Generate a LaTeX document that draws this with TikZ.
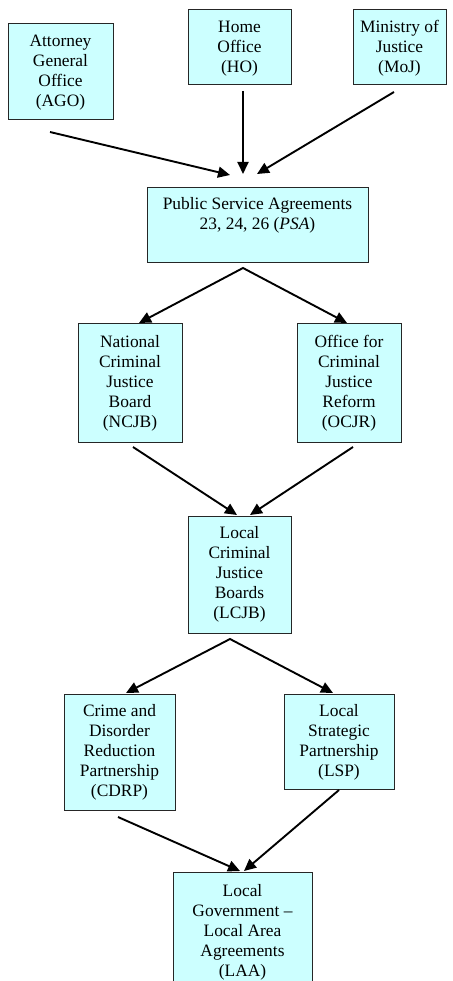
\documentclass[tikz,border=0pt]{standalone}
\usepackage{fontspec}
\setmainfont{Liberation Serif}
\usetikzlibrary{arrows.meta}
\definecolor{boxfill}{HTML}{CCFFFF}
\newcommand{\mybox}[4]{\parbox[c][#2][t]{#1}{\centering\fontsize{17.4}{20}\selectfont\rule{0pt}{#3}#4}}
\begin{document}
\begin{tikzpicture}[x=1pt,y=-1pt,
  orgbox/.style={draw=black!85, line width=0.9pt, fill=boxfill, inner sep=0pt, outer sep=0pt},
  arr/.style={line width=1.9pt, -{Triangle[length=12pt,width=11pt]}},
  arrtwo/.style={line width=1.9pt, line join=miter, {Triangle[length=12pt,width=11pt]}-{Triangle[length=12pt,width=11pt]}}]
\useasboundingbox (0,0) rectangle (452,981);
\node[orgbox] (ago) at (60.5,71) {\mybox{105pt}{96pt}{23.5pt}{Attorney\\General\\Office\\(AGO)}};
\node[orgbox] (ho) at (239.5,46.5) {\mybox{103pt}{75pt}{24pt}{Home\\Office\\(HO)}};
\node[orgbox] (moj) at (399.5,46.5) {\mybox{93pt}{75pt}{24pt}{Ministry of\\Justice\\(MoJ)}};
\node[orgbox] (psa) at (257.5,224.5) {\mybox{221pt}{75pt}{23pt}{Public Service Agreements\\23, 24, 26 (\textit{PSA})}};
\node[orgbox] (ncjb) at (130,382.5) {\mybox{104pt}{119pt}{24pt}{National\\Criminal\\Justice\\Board\\(NCJB)}};
\node[orgbox] (ocjr) at (349,382.5) {\mybox{104pt}{119pt}{24pt}{Office for\\Criminal\\Justice\\Reform\\(OCJR)}};
\node[orgbox] (lcjb) at (239.5,574.5) {\mybox{103pt}{117pt}{22.5pt}{Local\\Criminal\\Justice\\Boards\\(LCJB)}};
\node[orgbox] (cdrp) at (119.5,752) {\mybox{111pt}{116pt}{22.5pt}{Crime and\\Disorder\\Reduction\\Partnership\\(CDRP)}};
\node[orgbox] (lsp) at (339,741.5) {\mybox{110pt}{95pt}{22.5pt}{Local\\Strategic\\Partnership\\(LSP)}};
\node[orgbox] (laa) at (242.5,936) {\mybox{139pt}{128pt}{24pt}{Local\\Government --\\Local Area\\Agreements\\(LAA)}};
\draw[arr] ([shift={(-10.5,13)}]ago.south) -- ([shift={(-27.5,-12)}]psa.north);
\draw[arr] ([shift={(3.5,7)}]ho.south) -- ([shift={(-14.5,-13)}]psa.north);
\draw[arr] ([shift={(-5.5,8)}]moj.south) -- ([shift={(-0.5,-13)}]psa.north);
\draw[arrtwo] ([shift={(9,0)}]ncjb.north) -- ([shift={(-14.5,6)}]psa.south) -- ([shift={(-2,0)}]ocjr.north);
\draw[arr] ([shift={(3,5)}]ncjb.south) -- ([shift={(-2.5,-1)}]lcjb.north);
\draw[arr] ([shift={(4,5)}]ocjr.south) -- ([shift={(10.5,-1)}]lcjb.north);
\draw[arrtwo] ([shift={(6.5,-1)}]cdrp.north) -- ([shift={(-9.5,6)}]lcjb.south) -- ([shift={(-6,-1)}]lsp.north);
\draw[arr] ([shift={(-1.5,7)}]cdrp.south) -- ([shift={(-2.5,-1)}]laa.north);
\draw[arr] ([shift={(0,1)}]lsp.south) -- ([shift={(1.5,-1)}]laa.north);
\end{tikzpicture}
\end{document}
